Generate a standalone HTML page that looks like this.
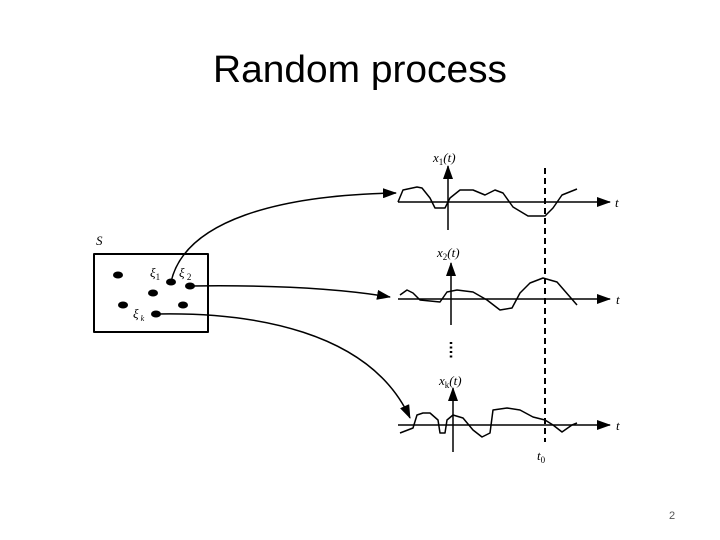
<!DOCTYPE html>
<html><head><style>
html,body{margin:0;padding:0;background:#fff;}
body{width:720px;height:540px;overflow:hidden;position:relative;}
</style></head><body>
<svg width="720" height="540" xmlns="http://www.w3.org/2000/svg" style="position:absolute;left:0;top:0">
<defs>
<marker id="b" markerWidth="14" markerHeight="10" refX="13" refY="5" orient="auto" markerUnits="userSpaceOnUse"><path d="M0,0 L14,5 L0,10 Z" fill="#000"/></marker>
</defs>
<text x="360" y="82" text-anchor="middle" font-family="Liberation Sans, sans-serif" font-size="38" textLength="294" lengthAdjust="spacingAndGlyphs">Random process</text>
<text x="672" y="519" text-anchor="middle" font-family="Liberation Sans, sans-serif" font-size="11" fill="#555">2</text>
<g font-family="Liberation Serif, serif" font-style="italic" font-size="13" fill="#000">
<text x="96" y="245">S</text>
<text x="433" y="162">x<tspan font-size="9" dy="3" font-style="normal">1</tspan><tspan dy="-3">(t)</tspan></text>
<text x="437" y="257">x<tspan font-size="9" dy="3" font-style="normal">2</tspan><tspan dy="-3">(t)</tspan></text>
<text x="439" y="385">x<tspan font-size="9" dy="3" font-style="normal">k</tspan><tspan dy="-3">(t)</tspan></text>
<text x="615" y="207">t</text><text x="616" y="304">t</text><text x="616" y="430">t</text>
<text x="537" y="460">t<tspan font-size="9" dy="3" font-style="normal">0</tspan></text>
<text x="150" y="277">ξ<tspan font-size="9" dy="3" font-style="normal">1</tspan></text>
<text x="179" y="277">ξ<tspan font-size="9" dy="3" font-style="normal"> 2</tspan></text>
<text x="133" y="318">ξ<tspan font-size="8" dy="3"> k</tspan></text>
</g>
<g stroke="#000" fill="none" stroke-width="1.5" stroke-linejoin="round">
<rect x="94" y="254" width="114" height="78" stroke-width="2"/>
<line x1="398" y1="202" x2="610" y2="202" marker-end="url(#b)"/>
<line x1="448" y1="230" x2="448" y2="166" marker-end="url(#b)"/>
<line x1="398" y1="299" x2="610" y2="299" marker-end="url(#b)"/>
<line x1="451" y1="325" x2="451" y2="263" marker-end="url(#b)"/>
<line x1="398" y1="425" x2="610" y2="425" marker-end="url(#b)"/>
<line x1="453" y1="452" x2="453" y2="388" marker-end="url(#b)"/>
<line x1="545" y1="168" x2="545" y2="442" stroke-dasharray="6,4" stroke-width="2"/>
<line x1="451" y1="342" x2="451" y2="358" stroke-dasharray="2,2.5" stroke-width="2.5"/>
<polyline points="398,202 403,190 417,187 422,188 430,198 435,208 445,208 450,198 460,190 473,190 485,195 495,190 503,193 513,207 528,216 545,216 553,208 562,195 577,189"/>
<polyline points="400,295 407,290 413,293 420,300 440,302 447,292 457,290 473,292 487,300 500,310 512,308 520,293 530,283 543,278 557,282 577,305"/>
<polyline points="400,433 413,428 417,415 423,413 430,413 438,420 440,433 445,433 447,420 453,415 463,418 473,430 482,437 490,433 493,410 507,408 520,410 533,417 545,420 553,425 562,432 572,425 577,423"/>
<path d="M171,282 C185,220 280,195 396,193" marker-end="url(#b)"/>
<path d="M190,286 C260,285 330,287 390,297" marker-end="url(#b)"/>
<path d="M156,314 C250,312 370,330 410,418" marker-end="url(#b)"/>
</g>
<g fill="#000">
<ellipse cx="118" cy="275" rx="5" ry="3.5"/><ellipse cx="171" cy="282" rx="5" ry="3.5"/>
<ellipse cx="190" cy="286" rx="5" ry="3.5"/><ellipse cx="153" cy="293" rx="5" ry="3.5"/>
<ellipse cx="123" cy="305" rx="5" ry="3.5"/><ellipse cx="183" cy="305" rx="5" ry="3.5"/>
<ellipse cx="156" cy="314" rx="5" ry="3.5"/>
</g>
</svg>
</body></html>
